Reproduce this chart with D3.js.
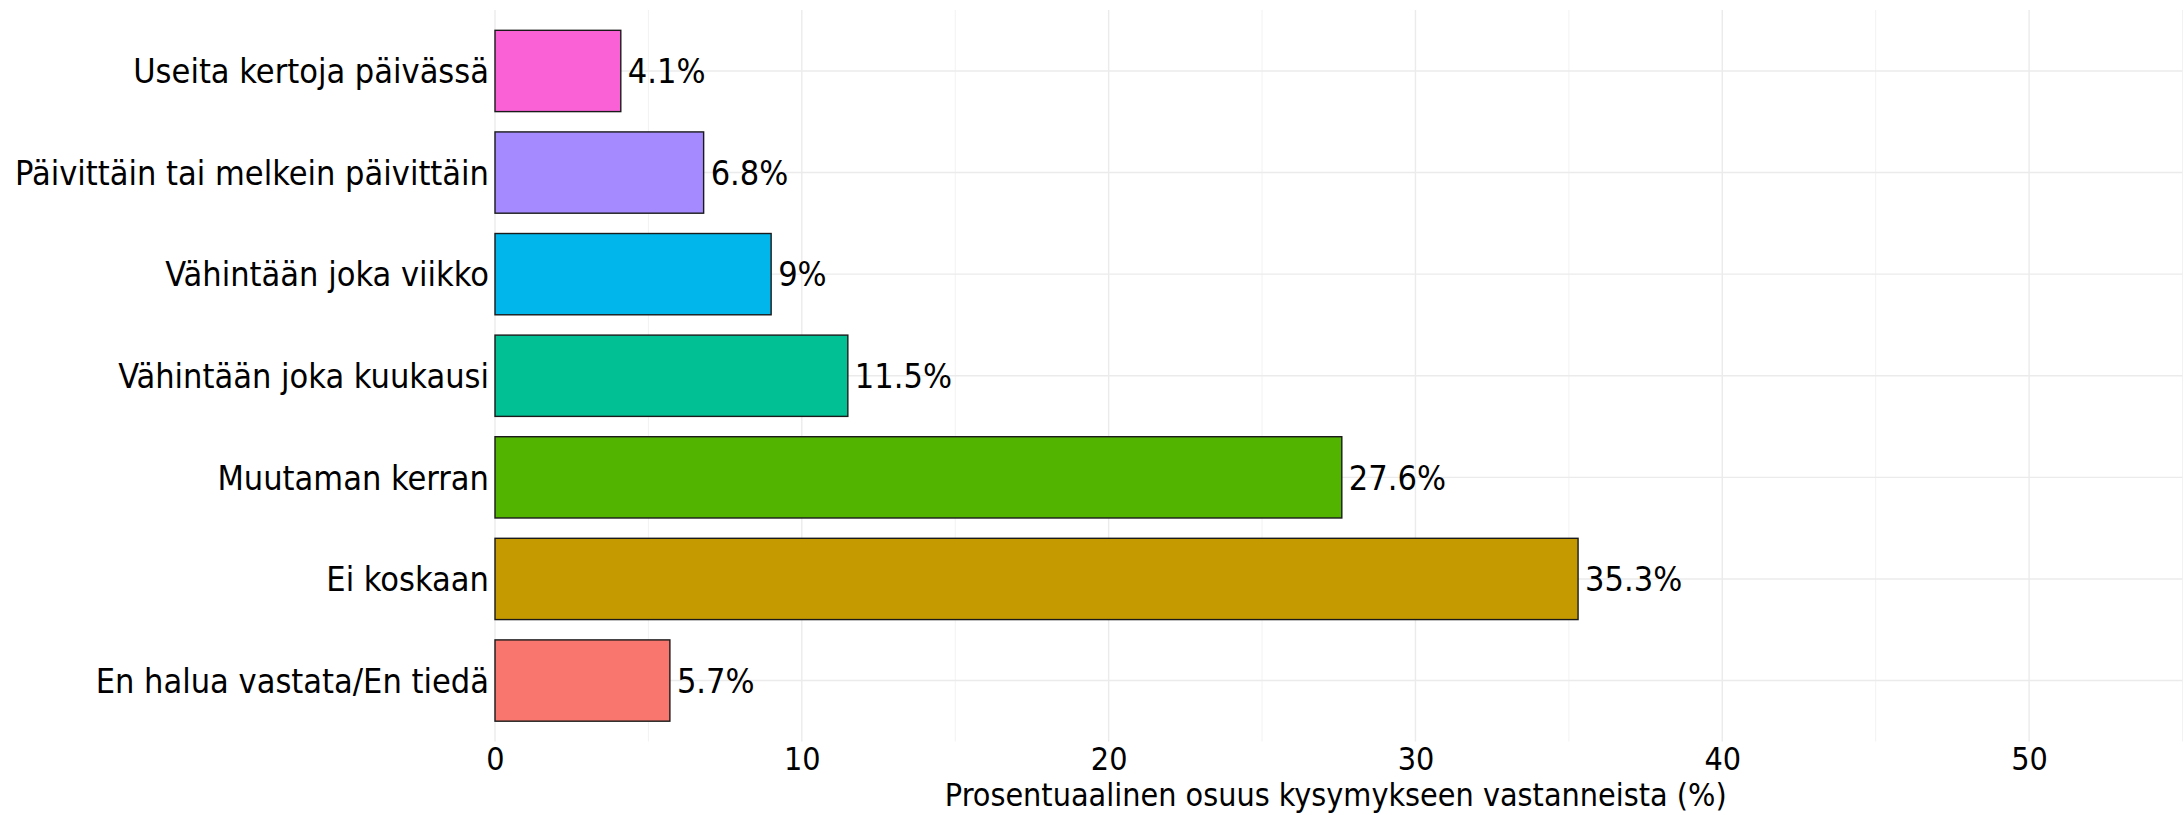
<!DOCTYPE html>
<html><head><meta charset="utf-8">
<script src="https://cdn.jsdelivr.net/npm/d3@7"></script>
<style>body{margin:0;background:#fff}svg{display:block}text{font-family:"DejaVu Sans Condensed","Liberation Sans Narrow",sans-serif;fill:#000}</style>
</head><body><svg id="c" width="2184" height="815"></svg>
<script>
const categories = ["Useita kertoja päivässä","Päivittäin tai melkein päivittäin","Vähintään joka viikko","Vähintään joka kuukausi","Muutaman kerran","Ei koskaan","En halua vastata/En tiedä"];
const values = [4.1, 6.8, 9, 11.5, 27.6, 35.3, 5.7];
const valueLabels = ["4.1%","6.8%","9%","11.5%","27.6%","35.3%","5.7%"];
const colors = ["#FB61D7","#A58AFF","#00B6EB","#00C094","#53B400","#C49A00","#F8766D"];
const majorTicks = [0,10,20,30,40,50];
const minorTicks = [5,15,25,35,45,55];
const xTitle = "Prosentuaalinen osuus kysymykseen vastanneista (%)";

const svg = d3.select("#c");
const L = 495, R = 2182.5, T = 10, B = 741.5;
const x = d3.scaleLinear().domain([0,55]).range([L,R]);
const y = d3.scalePoint().domain(categories).range([T,B]).padding(0.6);
const step = y.step(), bh = step*0.8;
const fs = 34;
const ff = '"DejaVu Sans Condensed","Liberation Sans Narrow",sans-serif';

const g = svg.append("g");
g.selectAll(".minor").data(minorTicks).join("line")
  .attr("x1",d=>x(d)).attr("x2",d=>x(d)).attr("y1",T).attr("y2",B)
  .attr("stroke","#f2f2f2").attr("stroke-width",1);
g.selectAll(".major").data(majorTicks).join("line")
  .attr("x1",d=>x(d)).attr("x2",d=>x(d)).attr("y1",T).attr("y2",B)
  .attr("stroke","#ebebeb").attr("stroke-width",1.4);
g.selectAll(".hy").data(categories).join("line")
  .attr("x1",L).attr("x2",R).attr("y1",d=>y(d)).attr("y2",d=>y(d))
  .attr("stroke","#ebebeb").attr("stroke-width",1.4);

g.selectAll(".bar").data(categories).join("rect")
  .attr("x",x(0)).attr("y",d=>y(d)-bh/2)
  .attr("width",(d,i)=>x(values[i])-x(0)).attr("height",bh)
  .attr("fill",(d,i)=>colors[i]).attr("stroke","#1a1a1a").attr("stroke-width",1.4);

g.selectAll(".vl").data(categories).join("text")
  .attr("x",(d,i)=>x(values[i])+7).attr("y",d=>y(d)).attr("dy","0.36em")
  .attr("font-size",fs).text((d,i)=>valueLabels[i]);

g.selectAll(".cl").data(categories).join("text")
  .attr("x",L-6).attr("y",d=>y(d)).attr("dy","0.36em").attr("text-anchor","end")
  .attr("font-size",fs).text(d=>d);

const xa = svg.append("g").attr("transform",`translate(0,${B})`)
  .call(d3.axisBottom(x).tickValues(majorTicks).tickSize(0).tickPadding(0).tickFormat(d3.format("d")));
xa.select(".domain").remove();
xa.selectAll("text").attr("font-size",32).attr("y",28).attr("dy",null)
  .style("font-family",ff).attr("fill","#000");

svg.append("text").attr("x",(L+R)/2 - 3).attr("y",806).attr("text-anchor","middle")
  .attr("font-size",32).text(xTitle);
</script></body></html>
